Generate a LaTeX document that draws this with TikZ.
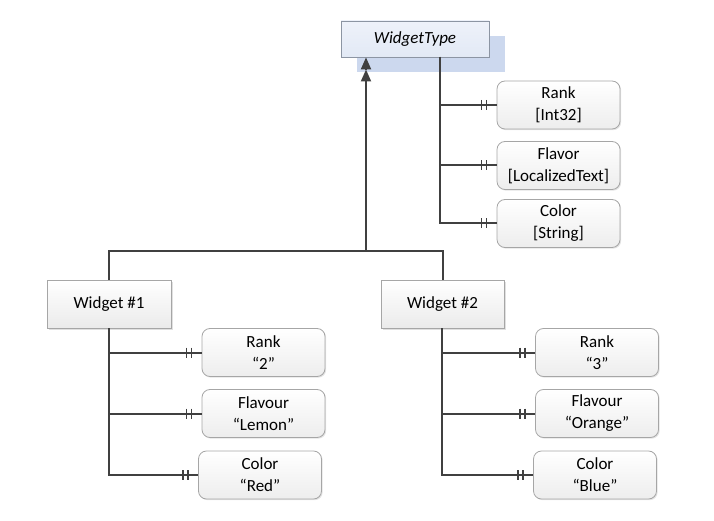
\documentclass[tikz,border=0pt]{standalone}
\usepackage{fontspec}
\setmainfont{Carlito}
\usetikzlibrary{arrows.meta,shadows}
\definecolor{lineC}{HTML}{404040}
\definecolor{boxB}{HTML}{A6A6A6}
\definecolor{wtB}{HTML}{8C95A3}
\definecolor{wtTop}{HTML}{EEF2FA}
\definecolor{wtBot}{HTML}{E2E9F5}
\definecolor{wtShadow}{HTML}{CCD8EE}
\begin{document}
\begin{tikzpicture}[x=1pt,y=-1pt,
  every node/.style={font=\fontsize{17}{22}\selectfont, text=black, align=center, inner sep=0pt},
  entity/.style={draw=boxB, line width=0.8pt, top color=white, bottom color=black!8,
    minimum height=48pt,
    drop shadow={shadow xshift=1.5pt, shadow yshift=-1.5pt, fill=black!30, opacity=0.4}},
  attr/.style={draw=boxB, line width=0.8pt, rounded corners=8pt, top color=white, bottom color=black!7,
    minimum width=123pt, minimum height=48pt,
    drop shadow={shadow xshift=1.2pt, shadow yshift=-1.2pt, fill=black!30, opacity=0.35}},
  conn/.style={draw=lineC, line width=2pt},
  tick/.style={draw=lineC, line width=1.6pt},
  tri/.style={-{Triangle[length=12pt,width=10pt]}},
]
\useasboundingbox (0,0) rectangle (714,521);

% WidgetType with its shadow
\fill[wtShadow] (357,36) rectangle (505,72);
\node[draw=wtB, line width=0.8pt, top color=wtTop, bottom color=wtBot,
  minimum width=148pt, minimum height=36pt, font=\fontsize{17}{22}\selectfont\itshape]
  (wt) at (415,39) {WidgetType};

% type attributes
\node[attr] (tr) at (558.5,105) {Rank\\{[Int32]}};
\node[attr] (tf) at (558.5,165.5) {Flavor\\{[LocalizedText]}};
\node[attr] (tc) at (558.5,223.5) {Color\\{[String]}};

% widgets
\node[entity, minimum width=124pt] (w1) at (109,304) {Widget \#1};
\node[entity, minimum width=123pt] (w2) at (442.5,304) {Widget \#2};

% widget 1 attributes
\node[attr] (ar) at (263.5,352.5) {Rank\\“2”};
\node[attr] (af) at (263.5,413.5) {Flavour\\“Lemon”};
\node[attr] (ac) at (260,475) {Color\\“Red”};

% widget 2 attributes
\node[attr] (br) at (597,352.5) {Rank\\“3”};
\node[attr] (bf) at (597,413.5) {Flavour\\“Orange”};
\node[attr] (bc) at (595,475) {Color\\“Blue”};

% trunk coordinates
\coordinate (wtT) at (440,57);
\coordinate (hub) at (366,251);
\coordinate (arr2) at (366,69.5);
\coordinate (w1T) at (w1.south);
\coordinate (w2T) at (442,328);

% inheritance
\draw[conn] (w1.north) |- (hub) -| (w2.north);
\draw[conn, tri] (hub) -- (arr2);
\draw[conn, tri] (arr2) -- (hub |- wt.south);

% composition lines
\foreach \src/\dst in {wtT/tr, wtT/tf, wtT/tc, w1T/ar, w1T/af, w1T/ac, w2T/br, w2T/bf, w2T/bc}{
  \draw[conn] (\src) |- (\dst.west);
  \draw[tick] ([xshift=-15pt]\dst.west) ++(0,-5) -- ++(0,10);
  \draw[tick] ([xshift=-10pt]\dst.west) ++(0,-5) -- ++(0,10);
}
\end{tikzpicture}
\end{document}
